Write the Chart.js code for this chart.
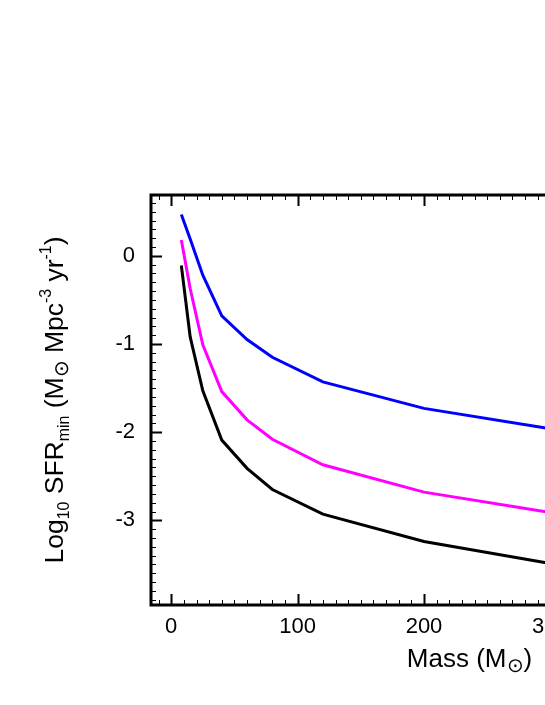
<!DOCTYPE html>
<html>
<head>
<meta charset="utf-8">
<script src="https://cdn.jsdelivr.net/npm/chart.js@4.4.0/dist/chart.umd.min.js"></script>
<style>
  html, body { margin: 0; padding: 0; overflow: hidden; background: #fff; }
  canvas { display: block; }
</style>
</head>
<body>
<canvas id="sfr" width="800" height="705"></canvas>
<script>
// stellar mass (Msun) and log10 SFR_min for the three curves
const masses = [8, 15, 25, 40, 60, 80, 120, 200, 300];
const sfrBlack = [-0.11, -0.92, -1.53, -2.09, -2.41, -2.65, -2.93, -3.24, -3.49];
const sfrMagenta = [0.18, -0.37, -1.01, -1.54, -1.86, -2.08, -2.37, -2.68, -2.91];
const sfrBlue = [0.47, 0.19, -0.22, -0.68, -0.95, -1.15, -1.43, -1.73, -1.96];

const xMajor = [0, 100, 200, 300, 400];
const yMajor = [-3, -2, -1, 0];

const FONT = "'Liberation Sans', Arial, sans-serif";

function pts(ys) {
  return masses.map((m, i) => ({x: m, y: ys[i]}));
}

// draws a string made of pieces with sub/superscripts, centred on x
function richText(ctx, parts, x, y, size) {
  let total = 0;
  parts.forEach(p => {
    ctx.font = (size * p[1]) + 'px ' + FONT;
    total += ctx.measureText(p[0]).width;
  });
  let cx = x - total / 2;
  ctx.textAlign = 'left';
  ctx.textBaseline = 'alphabetic';
  parts.forEach(p => {
    ctx.font = (size * p[1]) + 'px ' + FONT;
    ctx.fillText(p[0], cx, y + p[2] * size);
    cx += ctx.measureText(p[0]).width;
  });
}

const framePlugin = {
  id: 'frame',
  afterDraw(chart) {
    const {ctx, chartArea: a, scales: {x, y}} = chart;
    ctx.save();
    ctx.strokeStyle = '#000';
    ctx.fillStyle = '#000';

    // inward ticks on bottom/top
    for (let v = -10; v <= 480; v += 10) {
      const px = Math.round(x.getPixelForValue(v)) + 0.5;
      const major = v % 100 === 0;
      const len = major ? 11 : 5;
      ctx.lineWidth = major ? 2 : 1;
      ctx.beginPath();
      ctx.moveTo(px, a.bottom); ctx.lineTo(px, a.bottom - len);
      ctx.moveTo(px, a.top); ctx.lineTo(px, a.top + len);
      ctx.stroke();
    }
    // inward ticks on left/right
    for (let k = -39; k <= 6; k++) {
      const v = k / 10;
      const py = Math.round(y.getPixelForValue(v)) + 0.5;
      const major = k % 10 === 0;
      const len = major ? 11 : 5;
      ctx.lineWidth = major ? 2 : 1;
      ctx.beginPath();
      ctx.moveTo(a.left, py); ctx.lineTo(a.left + len, py);
      ctx.moveTo(a.right, py); ctx.lineTo(a.right - len, py);
      ctx.stroke();
    }

    ctx.lineWidth = 3;
    ctx.strokeRect(a.left, a.top, a.right - a.left, a.bottom - a.top);

    // x title
    richText(ctx, [['Mass (M', 1, 0], ['\u2299', 0.75, 0.2], [')', 1, 0]],
      (a.left + a.right) / 2, a.bottom + 62, 26);

    // y title, rotated
    ctx.translate(a.left - 88, (a.top + a.bottom) / 2);
    ctx.rotate(-Math.PI / 2);
    richText(ctx, [
      ['Log', 1, 0], ['10', 0.6, 0.22], [' SFR', 1, 0], ['min', 0.6, 0.22],
      [' (M', 1, 0], ['\u2299', 0.75, 0.2], [' Mpc', 1, 0], ['-3', 0.6, -0.45],
      [' yr', 1, 0], ['-1', 0.6, -0.45], [')', 1, 0]
    ], 0, 0, 26.5);
    ctx.restore();
  }
};

const config = {
  type: 'line',
  data: {
    datasets: [
      {label: 'black', data: pts(sfrBlack), borderColor: '#000000'},
      {label: 'magenta', data: pts(sfrMagenta), borderColor: '#ff00ff'},
      {label: 'blue', data: pts(sfrBlue), borderColor: '#0000ff'}
    ]
  },
  options: {
    responsive: false,
    animation: false,
    events: [],
    layout: {padding: {top: 195, right: 12, bottom: 0, left: 0}},
    plugins: {legend: {display: false}, tooltip: {enabled: false}},
    elements: {line: {borderWidth: 3, tension: 0}, point: {radius: 0}},
    scales: {
      x: {
        type: 'linear',
        min: -16,
        max: 488,
        grid: {display: false, drawTicks: false},
        border: {display: false},
        ticks: {color: '#000', font: {family: FONT, size: 22}, padding: 9, maxRotation: 0},
        afterBuildTicks: s => { s.ticks = xMajor.map(v => ({value: v})); },
        afterFit: s => { s.height = 100; }
      },
      y: {
        type: 'linear',
        min: -3.96,
        max: 0.69,
        grid: {display: false, drawTicks: false},
        border: {display: false},
        ticks: {color: '#000', font: {family: FONT, size: 22}, padding: 16},
        afterBuildTicks: s => { s.ticks = yMajor.map(v => ({value: v})); },
        afterFit: s => { s.width = 151; }
      }
    }
  },
  plugins: [framePlugin]
};

const chart = new Chart(document.getElementById('sfr'), config);
</script>
</body>
</html>
